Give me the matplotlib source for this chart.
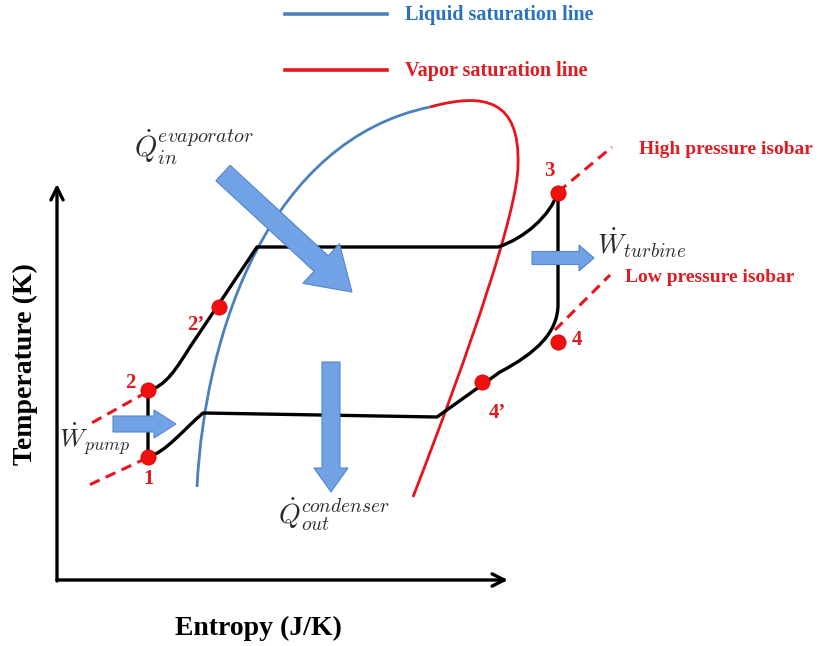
import numpy as np
import matplotlib
matplotlib.use('Agg')
import matplotlib.pyplot as plt
from matplotlib.path import Path
from matplotlib.patches import PathPatch, FancyArrow

plt.rcParams['font.family'] = ['Liberation Serif', 'DejaVu Serif']
plt.rcParams['mathtext.fontset'] = 'cm'

# --- Schematic data (pixel-like coordinates, y grows downward) ---

# Saturation dome as cubic Bezier control points
liquid_ctrl = [(197, 487), (205, 330), (270, 140), (430, 107)]
vapor_ctrl = [(430, 107), (485, 92), (520, 100), (518, 165),
              (518, 210), (470, 350), (413, 497)]

# Rankine cycle outline (vertices of lines and Bezier curves)
cycle_pts = [(148, 457), (148, 390),
             (165, 388), (178, 366), (190, 347),
             (257, 247), (498, 247),
             (525, 238), (550, 216), (558, 192),
             (558, 306),
             (557, 332), (538, 352), (500, 372),
             (437, 417), (203, 413),
             (182, 431), (166, 452), (148, 457)]
cycle_codes = ['M', 'L', 'C', 'C', 'C', 'L', 'L', 'C', 'C', 'C', 'L',
               'C', 'C', 'C', 'L', 'L', 'C', 'C', 'C']

# State points and their labels
state_names = ['1', '2', '2\u2019', '3', '4', '4\u2019']
state_x = [148, 148, 219, 558, 558, 482]
state_y = [457, 390, 307, 193, 342, 382]
label_x = [149, 130, 196, 549, 577, 497]
label_y = [479, 383, 325, 171, 340, 413]

# Dashed isobars (start, end)
isobars = [((558, 192), (612, 147)),
           ((555, 330), (610, 275)),
           ((147, 392), (88, 425)),
           ((147, 458), (87, 486))]

# Heat / work arrows: tail, tip, shaft width, head width, head length
arrows = [((223, 173), (352, 292), 21, 54, 42),
          ((331, 362), (331, 492), 18, 34, 24),
          ((113, 424), (176, 424), 16, 28, 22),
          ((532, 258), (594, 258), 13, 26, 15)]

line_blue = '#4a80bb'
line_red = '#e8141c'
text_red = '#de1c23'
text_blue = '#2a74bd'
arrow_face = '#72a2e6'
arrow_edge = '#5585cc'

fig = plt.figure(figsize=(8.21, 6.46), dpi=100)
ax = fig.add_axes([0, 0, 1, 1])
ax.set_xlim(0, 821)
ax.set_ylim(646, 0)
ax.axis('off')

# --- Axes arrows ---
ax.annotate('', xy=(57, 184), xytext=(57, 581),
            arrowprops=dict(arrowstyle='->', lw=2.4, color='black',
                            mutation_scale=22, shrinkA=0, shrinkB=0))
ax.annotate('', xy=(508, 580), xytext=(57, 580),
            arrowprops=dict(arrowstyle='->', lw=2.4, color='black',
                            mutation_scale=22, shrinkA=0, shrinkB=0))

ax.text(25, 364, 'Temperature (K)', rotation=90, ha='center', va='center',
        fontsize=20, fontweight='bold')
ax.text(258, 628, 'Entropy (J/K)', ha='center', va='center',
        fontsize=20, fontweight='bold')

# --- Saturation dome ---
liq = Path(liquid_ctrl, [Path.MOVETO, Path.CURVE4, Path.CURVE4, Path.CURVE4])
ax.add_patch(PathPatch(liq, fill=False, edgecolor=line_blue, lw=2.0))
vap = Path(vapor_ctrl, [Path.MOVETO] + [Path.CURVE4] * 6)
ax.add_patch(PathPatch(vap, fill=False, edgecolor=line_red, lw=2.0))

# --- Isobars ---
for (x0, y0), (x1, y1) in isobars:
    ax.plot([x0, x1], [y0, y1], color=line_red, lw=2.2, ls=(0, (3.5, 2.2)))

# --- Cycle ---
code_map = {'M': Path.MOVETO, 'L': Path.LINETO, 'C': Path.CURVE4}
cyc = Path(cycle_pts, [code_map[c] for c in cycle_codes])
ax.add_patch(PathPatch(cyc, fill=False, edgecolor='black', lw=2.4,
                       joinstyle='round', capstyle='round'))

# --- Arrows ---
for (tx, ty), (hx, hy), w, hw, hl in arrows:
    ax.add_patch(FancyArrow(tx, ty, hx - tx, hy - ty, width=w, head_width=hw,
                            head_length=hl, length_includes_head=True,
                            facecolor=arrow_face, edgecolor=arrow_edge, lw=0.8,
                            zorder=4))

# --- State points ---
ax.plot(state_x, state_y, 'o', color='#f01010', markersize=11, zorder=5,
        markeredgecolor='#d00000', markeredgewidth=0.5)
for name, lx, ly in zip(state_names, label_x, label_y):
    ax.text(lx, ly, name, color=text_red, fontsize=15, fontweight='bold',
            ha='center', va='center')

# --- Math labels ---
math_color = '#2b2b2b'
ax.text(134, 147, r'$\dot{Q}_{in}^{evaporator}$', fontsize=20.5, color=math_color,
        va='center')
ax.text(278, 514, r'$\dot{Q}_{out}^{condenser}$', fontsize=20, color=math_color,
        va='center')
ax.text(59, 440, r'$\dot{W}_{pump}$', fontsize=18.5, color=math_color, va='center')
ax.text(597, 243, r'$\dot{W}_{turbine}$', fontsize=19.5, color=math_color, va='center')

# --- Legend-like annotations ---
ax.plot([285, 387], [14, 14], color=line_blue, lw=2.6)
ax.text(405, 15, 'Liquid saturation line', color=text_blue, fontsize=14.5,
        fontweight='bold', va='center')
ax.plot([285, 387], [70, 70], color=line_red, lw=2.6)
ax.text(405, 71, 'Vapor saturation line', color=text_red, fontsize=14.5,
        fontweight='bold', va='center')

ax.text(639, 150, 'High pressure isobar', color=text_red, fontsize=14,
        fontweight='bold', va='center')
ax.text(625, 277, 'Low pressure isobar', color=text_red, fontsize=14,
        fontweight='bold', va='center')

fig.savefig('out.png', dpi=100)
